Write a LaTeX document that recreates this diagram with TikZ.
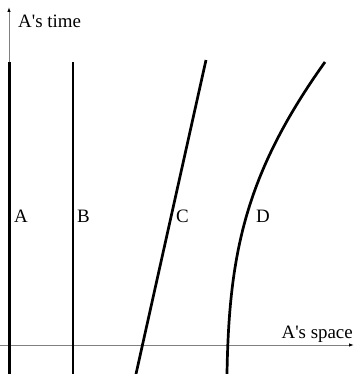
\documentclass[tikz,border=0pt]{standalone}
\usepackage{fontspec}
\setmainfont{Liberation Serif}
\usetikzlibrary{arrows.meta}

\begin{document}
\begin{tikzpicture}[
    x=1bp, y=1bp,
    axis/.style={draw=gray, line width=0.9bp, -{Latex[length=5bp, width=3.5bp, color=black]}},
    worldline/.style={draw=black, line width=2.7bp},
    tag/.style={font=\fontsize{19}{21}\selectfont, inner sep=0pt, anchor=base west}
]
    \useasboundingbox (0,0) rectangle (356,374);

    % axes
    \coordinate (t0) at (9,0);
    \coordinate (t1) at (9,367);
    \coordinate (s0) at (0,29);
    \coordinate (s1) at (354,29);
    \draw[axis] (t0) -- (t1);
    \draw[axis] (s0) -- (s1);
    \node[tag] (time) at (18,347) {A\textquotesingle s time};
    \node[tag, anchor=base east] (space) at (353,36) {A\textquotesingle s space};

    % world lines
    \coordinate (A0) at (9.5,0);   \coordinate (A1) at (9.5,312);
    \coordinate (B0) at (73,0);    \coordinate (B1) at (73,312);
    \coordinate (C0) at (136,0);   \coordinate (C1) at (206,314);
    \coordinate (D0) at (227,0);   \coordinate (D1) at (325,312);
    \draw[worldline] (A0) -- (A1);
    \draw[worldline] (B0) -- (B1);
    \draw[worldline] (C0) -- (C1);
    \draw[worldline] (D0) .. controls (229,120) and (245,200) .. (D1);

    \node[tag] (labA) at (14,152) {A};
    \node[tag] (labB) at (77,152) {B};
    \node[tag] (labC) at (176,152) {C};
    \node[tag] (labD) at (256,152) {D};
\end{tikzpicture}
\end{document}
